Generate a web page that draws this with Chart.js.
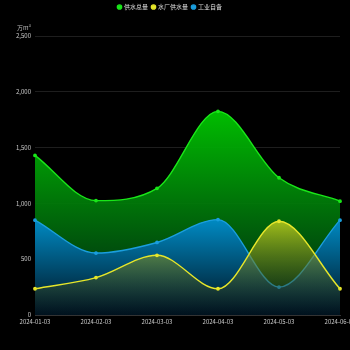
<!DOCTYPE html>
<html>
<head>
<meta charset="utf-8">
<script src="https://cdn.jsdelivr.net/npm/chart.js@4"></script>
<style>
  html, body { margin: 0; padding: 0; background: #000; }
  #wrap { width: 350px; height: 350px; }
</style>
</head>
<body>
<div id="wrap"><canvas id="supplyChart"></canvas></div>
<script>
// Monthly water supply (万m³)
const dates = ['2024-01-03', '2024-02-03', '2024-03-03', '2024-04-03', '2024-05-03', '2024-06-03'];
const totalSupply = [1430, 1025, 1135, 1825, 1230, 1020];
const plantSupply = [235, 335, 535, 235, 840, 235];
const selfSupply = [850, 555, 650, 855, 250, 850];
const yTicks = [0, 500, 1000, 1500, 2000, 2500];

const FONT = '"Noto Sans CJK SC", "Noto Sans", sans-serif';

// vertical gradient from the series' highest point down to the x axis
function areaFill(values, top, bottom) {
    return function (ctx) {
        const chart = ctx.chart;
        const area = chart.chartArea;
        if (!area) return top;
        const y0 = chart.scales.y.getPixelForValue(Math.max(...values));
        const g = chart.ctx.createLinearGradient(0, y0, 0, area.bottom);
        g.addColorStop(0, top);
        g.addColorStop(1, bottom);
        return g;
    };
}

// unit label drawn above the y axis
const unitLabel = {
    id: 'unitLabel',
    afterDraw(chart) {
        const c = chart.ctx;
        const y = chart.scales.y;
        c.save();
        c.fillStyle = '#bbb';
        c.font = '6px ' + FONT;
        c.textAlign = 'right';
        c.textBaseline = 'bottom';
        c.fillText('万m³', y.right - 4, chart.chartArea.top - 5);
        c.restore();
    }
};

// extra room between the legend and the plot
const legendGap = {
    id: 'legendGap',
    beforeUpdate(chart) {
        const legend = chart.legend;
        if (!legend || legend._gapPatched) return;
        const fit = legend.fit;
        legend.fit = function () {
            fit.call(this);
            this.height += 16;
        };
        legend._gapPatched = true;
    }
};

function makeSeries(label, data, line, top, bottom, order) {
    return {
        label: label,
        data: data,
        borderColor: line,
        backgroundColor: areaFill(data, top, bottom),
        pointBackgroundColor: line,
        pointBorderColor: line,
        pointRadius: 1.2,
        borderWidth: 1.4,
        fill: 'origin',
        cubicInterpolationMode: 'monotone',
        order: order
    };
}

new Chart(document.getElementById('supplyChart'), {
    type: 'line',
    data: {
        labels: dates,
        datasets: [
            makeSeries('供水总量', totalSupply, '#19e619', 'rgba(0,195,0,0.97)', 'rgba(0,35,20,0.9)', 3),
            makeSeries('水厂供水量', plantSupply, '#e6e62a', 'rgba(200,210,30,0.8)', 'rgba(0,20,30,0.3)', 1),
            makeSeries('工业自备', selfSupply, '#1a9ede', 'rgba(0,140,205,0.95)', 'rgba(0,15,30,0.95)', 2)
        ]
    },
    options: {
        responsive: true,
        maintainAspectRatio: false,
        animation: false,
        layout: { padding: { top: 0, right: 10, left: 0, bottom: 0 } },
        plugins: {
            legend: {
                position: 'top',
                labels: {
                    color: '#ddd',
                    font: { size: 6, family: FONT },
                    usePointStyle: true,
                    pointStyle: 'circle',
                    boxWidth: 3,
                    boxHeight: 3,
                    padding: 4,
                    sort: (a, b) => a.datasetIndex - b.datasetIndex
                }
            },
            tooltip: { enabled: false }
        },
        scales: {
            x: {
                grid: { display: false, drawTicks: false },
                border: { color: '#333' },
                ticks: { color: '#ccc', font: { size: 6, family: FONT }, maxRotation: 0, autoSkip: false, padding: 3 },
                afterFit(scale) {
                    scale.paddingLeft = 0;
                    scale.paddingRight = 0;
                    scale.height = 35;
                }
            },
            y: {
                min: 0,
                max: 2500,
                afterBuildTicks(scale) {
                    scale.ticks = yTicks.map(v => ({ value: v }));
                },
                grid: { color: '#1e1e1e', drawTicks: false },
                border: { display: false },
                ticks: {
                    color: '#ccc',
                    font: { size: 6, family: FONT },
                    padding: 4,
                    callback: v => v.toLocaleString('en-US')
                },
                afterFit(scale) {
                    scale.width = 35;
                }
            }
        }
    },
    plugins: [legendGap, unitLabel]
});
</script>
</body>
</html>
